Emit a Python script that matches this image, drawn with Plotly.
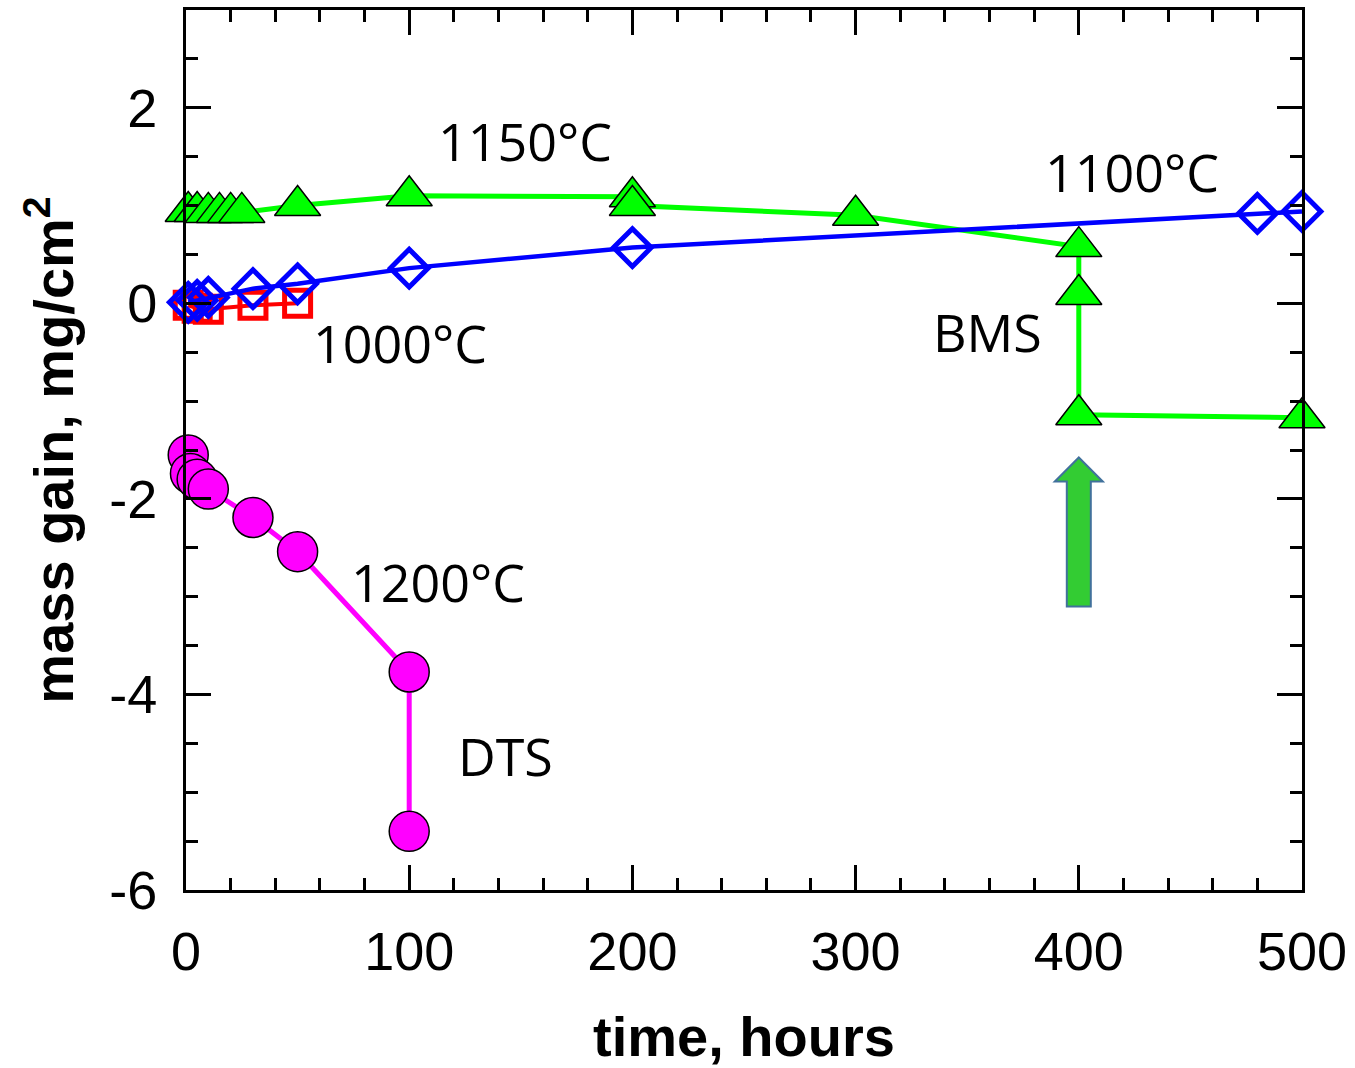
import plotly.graph_objects as go

# ---- data ----
t1150 = [1, 5, 10, 15, 20, 25, 50, 100, 200, 200, 300, 400, 400, 400, 500]
m1150 = [0.94, 0.94, 0.93, 0.93, 0.93, 0.93, 1.0, 1.10, 1.09, 1.0, 0.90, 0.58, 0.09, -1.14, -1.17]

t1100 = [1, 5, 10, 30, 50, 100, 200, 480, 500]
m1100 = [0.01, 0.03, 0.06, 0.15, 0.20, 0.36, 0.57, 0.92, 0.94]

t1000 = [1, 5, 10, 30, 50]
m1000 = [-0.02, -0.05, -0.06, -0.02, 0.0]

t1200 = [1, 2, 5, 10, 30, 50, 100, 100]
m1200 = [-1.55, -1.74, -1.80, -1.90, -2.19, -2.54, -3.77, -5.40]

labels = ["1150°C", "1100°C", "1000°C", "1200°C", "DTS", "BMS"]
label_x = [152, 424, 96, 113, 143, 359]
label_y = [1.67, 1.35, -0.40, -2.84, -4.62, -0.29]

x_tickvals = [0, 100, 200, 300, 400, 500]
x_ticktext = ["0", "100", "200", "300", "400", "500"]
y_tickvals = [-6, -4, -2, 0, 2]
y_ticktext = ["-6", "-4", "-2", "0", "2"]

arrow_x = 400
arrow_base_y = -3.1

fig = go.Figure()

fig.add_trace(go.Scatter(
    x=t1200, y=m1200, mode="lines+markers", cliponaxis=False,
    line=dict(color="#ff00ff", width=5),
    marker=dict(symbol="circle", size=40, color="#ff00ff", line=dict(color="black", width=1.5)),
))
fig.add_trace(go.Scatter(
    x=t1000, y=m1000, mode="lines+markers", cliponaxis=False,
    line=dict(color="#ff0000", width=4),
    marker=dict(symbol="square-open", size=26, color="#ff0000", line=dict(color="#ff0000", width=5)),
))
fig.add_trace(go.Scatter(
    x=t1150, y=m1150, mode="lines+markers", cliponaxis=False,
    line=dict(color="#00ff00", width=5),
    marker=dict(symbol="triangle-up", size=40, color="#00ff00", line=dict(color="black", width=1.5)),
))
fig.add_trace(go.Scatter(
    x=t1100, y=m1100, mode="lines+markers", cliponaxis=False,
    line=dict(color="#0000ff", width=4.5),
    marker=dict(symbol="diamond-open", size=29, color="#0000ff", line=dict(color="#0000ff", width=5)),
))

for txt, xx, yy in zip(labels, label_x, label_y):
    fig.add_annotation(x=xx, y=yy, text=txt, showarrow=False,
                       font=dict(family="Open Sans", size=52, color="black"),
                       xanchor="center", yanchor="middle")

# block arrow (pixel-sized shape anchored in data coordinates)
fig.add_shape(type="path", xref="x", yref="y",
              xsizemode="pixel", ysizemode="pixel",
              xanchor=arrow_x, yanchor=arrow_base_y,
              path="M -12,0 L 12,0 L 12,125 L 24,125 L 0,149 L -24,125 L -12,125 Z",
              fillcolor="#33cc33", line=dict(color="#41719c", width=2))

axis_common = dict(
    showline=True, linecolor="black", linewidth=3, mirror="ticks",
    ticks="inside", ticklen=25, tickwidth=3, tickcolor="black",
    showgrid=False, zeroline=False, automargin=False,
    tickfont=dict(family="Liberation Sans", size=54, color="black"),
)

fig.update_xaxes(range=[0, 500], tickmode="array", tickvals=x_tickvals, ticktext=x_ticktext,
                 ticklabelstandoff=12,
                 minor=dict(ticks="inside", ticklen=12, tickwidth=3, dtick=20, tick0=0, tickcolor="black", showgrid=False),
                 title=dict(text="<b>time, hours</b>", font=dict(family="Liberation Sans", size=56, color="black"), standoff=39),
                 **axis_common)
fig.update_yaxes(range=[-6, 3], tickmode="array", tickvals=y_tickvals, ticktext=y_ticktext,
                 ticklabelstandoff=15,
                 minor=dict(ticks="inside", ticklen=12, tickwidth=3, dtick=0.5, tick0=0, tickcolor="black", showgrid=False),
                 title=dict(text="<b>mass gain, mg/cm<sup>2</sup></b>", font=dict(family="Liberation Sans", size=56, color="black"), standoff=18),
                 **axis_common)

fig.update_layout(
    width=1355, height=1068,
    margin=dict(l=186, r=53, t=10, b=178),
    plot_bgcolor="white", paper_bgcolor="white",
    showlegend=False,
)

fig.write_html("out.html")
